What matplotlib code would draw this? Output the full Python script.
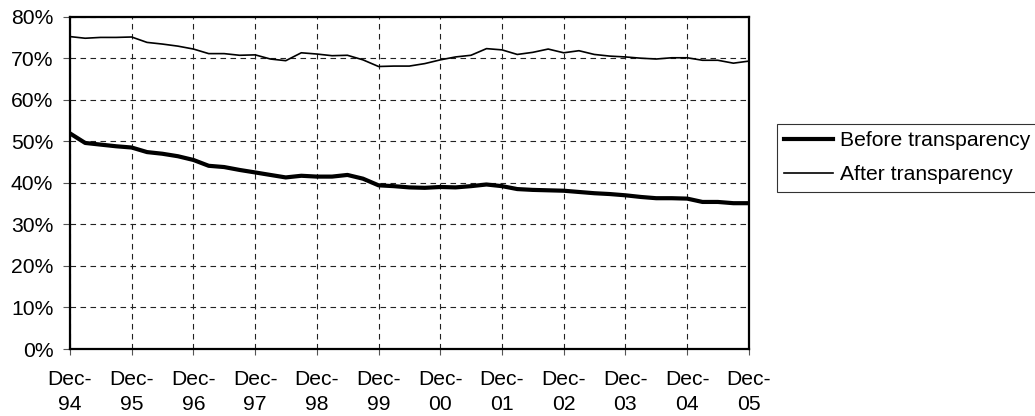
import numpy as np
import pandas as pd
import matplotlib
matplotlib.use("Agg")
import matplotlib.pyplot as plt
from matplotlib.ticker import FuncFormatter

plt.rcParams['font.family'] = ['Liberation Sans', 'DejaVu Sans']

# quarterly observations, Dec-94 .. Dec-05
quarters = pd.date_range('1994-12-31', periods=45, freq='QE')

before = [51.9, 49.6, 49.2, 48.8, 48.5, 47.4, 47.0, 46.4, 45.5, 44.1,
          43.8, 43.1, 42.5, 41.9, 41.3, 41.7, 41.5, 41.5, 41.9, 41.0,
          39.4, 39.2, 38.9, 38.8, 39.0, 38.9, 39.2, 39.6, 39.2, 38.5,
          38.3, 38.2, 38.1, 37.8, 37.5, 37.3, 37.0, 36.6, 36.3, 36.3,
          36.2, 35.4, 35.4, 35.1, 35.1]

after = [75.2, 74.8, 75.0, 75.0, 75.1, 73.8, 73.4, 72.9, 72.2, 71.1,
         71.1, 70.7, 70.8, 69.8, 69.4, 71.3, 71.0, 70.6, 70.7, 69.6,
         68.0, 68.1, 68.1, 68.7, 69.6, 70.3, 70.7, 72.3, 72.0, 70.9,
         71.4, 72.2, 71.3, 71.8, 70.9, 70.5, 70.3, 70.0, 69.8, 70.1,
         70.1, 69.5, 69.5, 68.8, 69.3]

year_ticks = quarters[::4]
tick_labels = ['Dec-\n' + d.strftime('%y') for d in year_ticks]

fs = 15.2

fig = plt.figure(figsize=(10.35, 4.16), dpi=100)
ax = fig.add_axes([0.0676, 0.161, 0.656, 0.799])

ax.plot(quarters, before, color='black', lw=3.0, label='Before transparency',
        solid_joinstyle='round', zorder=3)
ax.plot(quarters, after, color='black', lw=1.2, label='After transparency', zorder=3)

ax.set_xlim(quarters[0], quarters[-1])
ax.set_ylim(0, 80)
ax.set_yticks(np.arange(0, 81, 10))
ax.yaxis.set_major_formatter(FuncFormatter(lambda v, p: f'{v:.0f}%'))
ax.set_xticks(year_ticks)
ax.set_xticklabels(tick_labels, linespacing=1.4)

ax.grid(True, color='#222222', lw=0.8, linestyle=(0, (5, 4)))
ax.set_axisbelow(True)

for s in ax.spines.values():
    s.set_linewidth(1.6)
    s.set_color('black')

ax.tick_params(axis='both', labelsize=fs, width=0.8, color='#555555')
ax.tick_params(axis='x', length=4, pad=11)
ax.tick_params(axis='y', length=5, pad=7)

leg = fig.legend(loc='upper left', bbox_to_anchor=(777 / 1035, 1 - 124 / 416),
                 fontsize=fs, frameon=True, fancybox=False, edgecolor='black',
                 handlelength=2.3, handletextpad=0.35, borderpad=0.35,
                 labelspacing=0.7, borderaxespad=0)
leg.get_frame().set_linewidth(0.8)

fig.savefig('out.png', dpi=100)
